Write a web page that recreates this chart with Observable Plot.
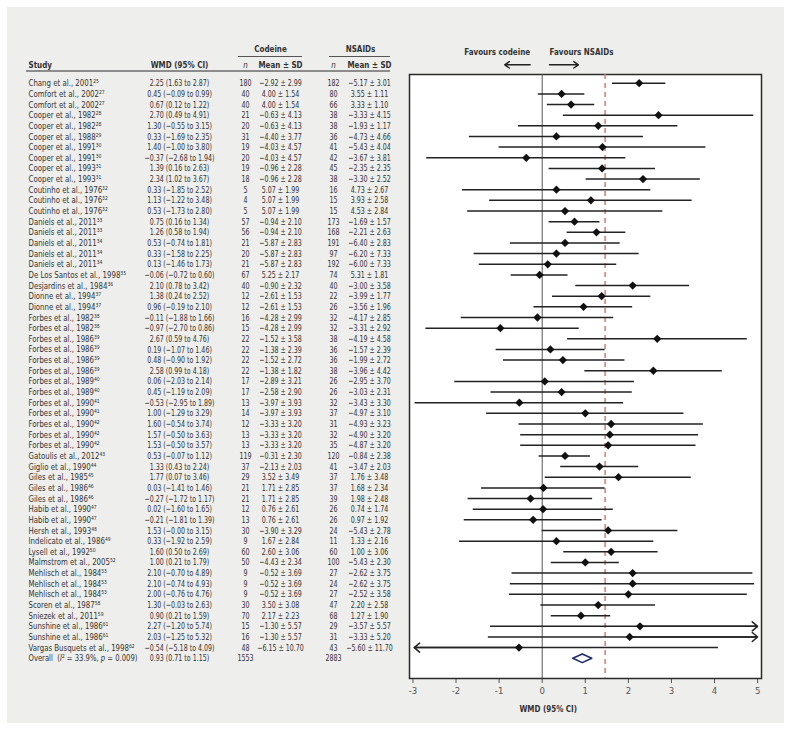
<!DOCTYPE html>
<html><head><meta charset="utf-8">
<script src="https://cdn.jsdelivr.net/npm/d3@7"></script>
<script src="https://cdn.jsdelivr.net/npm/@observablehq/plot@0.6"></script>
<style>
body{margin:0;background:#fff;}
#wrap{position:relative;width:791px;height:730px;}
#panel{position:absolute;left:7px;top:7px;width:777px;height:716px;background:#eeeeec;}
#chart{position:absolute;left:0;top:0;}
</style></head><body>
<div id="wrap"><div id="panel"></div><div id="chart"></div></div>
<script>
// ---------- data ----------
const studies = ["Chang et al., 2001","Comfort et al., 2002","Comfort et al., 2002","Cooper et al., 1982","Cooper et al., 1982","Cooper et al., 1988","Cooper et al., 1991","Cooper et al., 1991","Cooper et al., 1993","Cooper et al., 1993","Coutinho et al., 1976","Coutinho et al., 1976","Coutinho et al., 1976","Daniels et al., 2011","Daniels et al., 2011","Daniels et al., 2011","Daniels et al., 2011","Daniels et al., 2011","De Los Santos et al., 1998","Desjardins et al., 1984","Dionne et al., 1994","Dionne et al., 1994","Forbes et al., 1982","Forbes et al., 1982","Forbes et al., 1986","Forbes et al., 1986","Forbes et al., 1986","Forbes et al., 1986","Forbes et al., 1989","Forbes et al., 1989","Forbes et al., 1990","Forbes et al., 1990","Forbes et al., 1990","Forbes et al., 1990","Forbes et al., 1990","Gatoulis et al., 2012","Giglio et al., 1990","Giles et al., 1985","Giles et al., 1986","Giles et al., 1986","Habib et al., 1990","Habib et al., 1990","Hersh et al., 1993","Indelicato et al., 1986","Lysell et al., 1992","Malmstrom et al., 2005","Mehlisch et al., 1984","Mehlisch et al., 1984","Mehlisch et al., 1984","Scoren et al., 1987","Sniezek et al., 2011","Sunshine et al., 1986","Sunshine et al., 1986","Vargas Busquets et al., 1998"];
const refs = [25,27,27,28,28,29,30,30,31,31,32,32,32,33,33,34,34,34,35,36,37,37,38,38,39,39,39,39,40,40,41,41,42,42,42,43,44,45,46,46,47,47,48,49,50,52,53,53,53,58,59,61,61,62];
const wmd = [2.25,0.45,0.67,2.70,1.30,0.33,1.40,-0.37,1.39,2.34,0.33,1.13,0.53,0.75,1.26,0.53,0.33,0.13,-0.06,2.10,1.38,0.96,-0.11,-0.97,2.67,0.19,0.48,2.58,0.06,0.45,-0.53,1.00,1.60,1.57,1.53,0.53,1.33,1.77,0.03,-0.27,0.02,-0.21,1.53,0.33,1.60,1.00,2.10,2.10,2.00,1.30,0.90,2.27,2.03,-0.54];
const ciLow = [1.63,-0.09,0.12,0.49,-0.55,-1.69,-1.00,-2.68,0.16,1.02,-1.85,-1.22,-1.73,0.16,0.58,-0.74,-1.58,-1.46,-0.72,0.78,0.24,-0.19,-1.88,-2.70,0.59,-1.07,-0.90,0.99,-2.03,-1.19,-2.95,-1.29,-0.54,-0.50,-0.50,-0.07,0.43,0.07,-1.41,-1.72,-1.60,-1.81,-0,-1.92,0.50,0.21,-0.70,-0.74,-0.76,-0.03,0.21,-1.20,-1.25,-5.18];
const ciHigh = [2.87,0.99,1.22,4.91,3.15,2.35,3.80,1.94,2.63,3.67,2.52,3.48,2.80,1.34,1.94,1.81,2.25,1.73,0.60,3.42,2.52,2.10,1.66,0.86,4.76,1.46,1.92,4.18,2.14,2.09,1.89,3.29,3.74,3.63,3.57,1.12,2.24,3.46,1.46,1.17,1.65,1.39,3.15,2.59,2.69,1.79,4.89,4.93,4.76,2.63,1.59,5.74,5.32,4.09];
const nCodeine = [180,40,40,21,20,31,19,20,19,18,5,4,5,57,56,21,20,21,67,40,12,12,16,15,22,22,22,22,17,17,13,14,12,13,13,119,37,29,21,21,12,13,30,9,60,50,9,9,9,30,70,15,16,48];
const meanCodeine = [-2.92,4.00,4.00,-0.63,-0.63,-4.40,-4.03,-4.03,-0.96,-0.96,5.07,5.07,5.07,-0.94,-0.94,-5.87,-5.87,-5.87,5.25,-0.90,-2.61,-2.61,-4.28,-4.28,-1.52,-1.38,-1.52,-1.38,-2.89,-2.58,-3.97,-3.97,-3.33,-3.33,-3.33,-0.31,-2.13,3.52,1.71,1.71,0.76,0.76,-3.90,1.67,2.60,-4.43,-0.52,-0.52,-0.52,3.50,2.17,-1.30,-1.30,-6.15];
const sdCodeine = [2.99,1.54,1.54,4.13,4.13,3.77,4.57,4.57,2.28,2.28,1.99,1.99,1.99,2.10,2.10,2.83,2.83,2.83,2.17,2.32,1.53,1.53,2.99,2.99,3.58,2.39,2.72,1.82,3.21,2.90,3.93,3.93,3.20,3.20,3.20,2.30,2.03,3.49,2.85,2.85,2.61,2.61,3.29,2.84,3.06,2.34,3.69,3.69,3.69,3.08,2.23,5.57,5.57,10.70];
const nNsaid = [182,80,66,38,38,36,41,42,45,38,16,15,15,173,168,191,97,192,74,40,22,26,32,32,38,36,36,38,26,26,32,37,31,32,35,120,41,37,37,39,26,26,24,11,60,100,27,24,27,47,68,29,31,43];
const meanNsaid = [-5.17,3.55,3.33,-3.33,-1.93,-4.73,-5.43,-3.67,-2.35,-3.30,4.73,3.93,4.53,-1.69,-2.21,-6.40,-6.20,-6.00,5.31,-3.00,-3.99,-3.56,-4.17,-3.31,-4.19,-1.57,-1.99,-3.96,-2.95,-3.03,-3.43,-4.97,-4.93,-4.90,-4.87,-0.84,-3.47,1.76,1.68,1.98,0.74,0.97,-5.43,1.33,1.00,-5.43,-2.62,-2.62,-2.52,2.20,1.27,-3.57,-3.33,-5.60];
const sdNsaid = [3.01,1.11,1.10,4.15,1.17,4.66,4.04,3.81,2.35,2.52,2.67,2.58,2.84,1.57,2.63,2.83,7.33,7.33,1.81,3.58,1.77,1.96,2.85,2.92,4.58,2.39,2.72,4.42,3.70,2.31,3.30,3.10,3.23,3.20,3.20,2.38,2.03,3.48,2.34,2.48,1.74,1.92,2.78,2.16,3.06,2.30,3.75,3.75,3.58,2.58,1.90,5.57,5.20,11.70];
const overallLabel = "Overall";
const overallI2 = "33.9";
const overallP = "0.009";
const overallWmd = 0.93, overallLow = 0.71, overallHigh = 1.15;
const overallNCodeine = 1553, overallNNsaid = 2883;
const xTicks = [-3,-2,-1,0,1,2,3,4,5];
const refLineValue = 1.46;
const groupHeaders = ["Codeine", "NSAIDs"];
const columnHeaders = ["Study", "WMD (95% CI)", "n", "Mean ± SD", "n", "Mean ± SD"];
const favourLabels = ["Favours codeine", "Favours NSAIDs"];
const axisTitle = "WMD (95% CI)";

// ---------- layout / style ----------
const FONT = "'Liberation Sans Narrow','Arial Narrow','DejaVu Sans Condensed',Lato,sans-serif";
const W = 791, H = 730;
const M = {left: 409, right: 30, top: 74, bottom: 52};
const xDomain = [-3.08, 5.09];
const clipLo = -2.97, clipHi = 5.0;
const yDomain = [-0.82, 55.9];
const FS = 9.5;
const SQUEEZE = {tbltext: 0.82, tblhead: 0.84, tblnum: 0.74, tbloverall: 0.8};
// column anchors as offsets from the plot frame's left edge (px)
const cols = [
  {key: "label", dx: -381, anchor: "start", kind: "tbltext"},
  {key: "ci", dx: -230, anchor: "middle", kind: "tblnum"},
  {key: "nC", dx: -164, anchor: "middle", kind: "tblnum"},
  {key: "mC", dx: -129, anchor: "middle", kind: "tblnum"},
  {key: "nN", dx: -76, anchor: "middle", kind: "tblnum"},
  {key: "mN", dx: -40, anchor: "middle", kind: "tblnum"}
];
const headerDy = -9.5, groupDy = -26;
const groupDx = [-139, -49];
const headerLines = [
  {x1: 238, x2: 302, dy: -17.5, stroke: "#555", w: 1},
  {x1: 329, x2: 390, dy: -17.5, stroke: "#555", w: 1},
  {x1: 26, x2: 390, dy: -3, stroke: "#8c8c8c", w: 2}
];
const favourTextRow = -2.91, favourArrowRow = -1.73;
const favourArrows = [
  {label: favourLabels[0], near: -0.28, far: -0.87},
  {label: favourLabels[1], near: 0.17, far: 0.84}
];

// ---------- derived table ----------
const fmt = v => ((v < 0 || Object.is(v, -0)) ? "\u2212" : "") + Math.abs(v).toFixed(2);
const supDigits = "⁰¹²³⁴⁵⁶⁷⁸⁹";
const sup = n => String(n).replace(/\d/g, c => supDigits[+c]);
const rows = studies.map((s, k) => ({
  i: k,
  label: s + sup(refs[k]),
  est: wmd[k], lo: ciLow[k], hi: ciHigh[k],
  ci: `${fmt(wmd[k])} (${fmt(ciLow[k])} to ${fmt(ciHigh[k])})`,
  nC: String(nCodeine[k]),
  mC: `${fmt(meanCodeine[k])} ± ${fmt(sdCodeine[k])}`,
  nN: String(nNsaid[k]),
  mN: `${fmt(meanNsaid[k])} ± ${fmt(sdNsaid[k])}`
}));
const oi = rows.length;
const overallRow = {
  i: oi,
  label: `${overallLabel}  (I² = ${overallI2}%, p = ${overallP})`,
  ci: `${fmt(overallWmd)} (${fmt(overallLow)} to ${fmt(overallHigh)})`,
  nC: String(overallNCodeine), mC: "", nN: String(overallNNsaid), mN: ""
};
const diamondHalf = 0.41;
const diamond = [
  {x: overallLow, y: oi}, {x: overallWmd, y: oi - diamondHalf},
  {x: overallHigh, y: oi}, {x: overallWmd, y: oi + diamondHalf}, {x: overallLow, y: oi}
];
const clamp = v => Math.max(clipLo, Math.min(clipHi, v));
const rightClipped = rows.filter(d => d.hi > clipHi);
const leftClipped = rows.filter(d => d.lo < clipLo);

const TXT = "#333";
const textMarks = cols.map(c => Plot.text([...rows, overallRow], {
  y: "i", text: c.key, frameAnchor: "left", dx: c.dx, textAnchor: c.anchor,
  fill: TXT, fontSize: FS, ariaDescription: c.kind,
  filter: c.key === "label" ? (d => d.i !== oi) : undefined
}));
const overallMark = Plot.text([overallRow], {
  y: "i", text: "label", frameAnchor: "left", dx: cols[0].dx, textAnchor: "start",
  fill: TXT, fontSize: FS, ariaDescription: "tbloverall"
});
const headerMarks = columnHeaders.map((h, k) => Plot.text([h], {
  frameAnchor: "top-left", lineAnchor: "middle", dx: cols[k].dx, dy: headerDy, textAnchor: cols[k].anchor,
  fill: TXT, fontSize: FS, fontWeight: h === "n" ? "normal" : "bold",
  fontStyle: h === "n" ? "italic" : "normal", ariaDescription: "tblhead"
}));
const groupMarks = groupHeaders.map((h, k) => Plot.text([h], {
  frameAnchor: "top-left", lineAnchor: "middle", dx: groupDx[k], dy: groupDy, textAnchor: "middle",
  fill: TXT, fontSize: FS, fontWeight: "bold", ariaDescription: "tblhead"
}));
const lineMark = (index, scales, values, dims) => {
  const g = d3.create("svg:g");
  for (const l of headerLines) {
    g.append("line").attr("x1", l.x1).attr("x2", l.x2)
      .attr("y1", dims.marginTop + l.dy).attr("y2", dims.marginTop + l.dy)
      .attr("stroke", l.stroke).attr("stroke-width", l.w);
  }
  return g.node();
};

const chart = Plot.plot({
  width: W, height: H,
  marginLeft: M.left, marginRight: M.right, marginTop: M.top, marginBottom: M.bottom,
  style: {background: "transparent", fontFamily: FONT, fontSize: FS + "px", color: "#555", overflow: "visible"},
  x: {domain: xDomain, ticks: xTicks, tickFormat: d => String(d), tickSize: 5, tickPadding: 4, label: null},
  y: {domain: yDomain, reverse: true, axis: null},
  marks: [
    Plot.frame({fill: "white", stroke: "#2a2a2a", strokeWidth: 1.5}),
    Plot.ruleX([0], {stroke: "#555", strokeWidth: 1}),
    Plot.ruleX([refLineValue], {stroke: "#cf7f72", strokeWidth: 1.5, strokeDasharray: "5,4"}),
    Plot.ruleY(rows, {y: "i", x1: d => clamp(d.lo), x2: d => clamp(d.hi), stroke: "#222", strokeWidth: 1.5}),
    Plot.arrow(rightClipped, {x1: "est", x2: clipHi, y1: "i", y2: "i", stroke: "#222", strokeWidth: 1.5, headLength: 7, headAngle: 80}),
    Plot.arrow(leftClipped, {x1: "est", x2: clipLo, y1: "i", y2: "i", stroke: "#222", strokeWidth: 1.5, headLength: 7, headAngle: 80}),
    Plot.dot(rows, {x: "est", y: "i", symbol: "square", rotate: 45, r: 3.3, fill: "#111"}),
    Plot.line(diamond, {x: "x", y: "y", stroke: "#1f2b6d", strokeWidth: 1.6, fill: "white"}),
    ...textMarks,
    overallMark,
    ...headerMarks,
    ...groupMarks,
    lineMark,
    Plot.text([favourArrows[0]], {x: "near", y: favourTextRow, text: "label", textAnchor: "end", fill: TXT, fontWeight: "bold", fontSize: FS, ariaDescription: "tblhead"}),
    Plot.text([favourArrows[1]], {x: "near", y: favourTextRow, text: "label", textAnchor: "start", fill: TXT, fontWeight: "bold", fontSize: FS, ariaDescription: "tblhead"}),
    Plot.arrow(favourArrows, {x1: "near", x2: "far", y1: favourArrowRow, y2: favourArrowRow, stroke: "#222", strokeWidth: 1.4, headLength: 6, headAngle: 70}),
    Plot.text([axisTitle], {x: 0, frameAnchor: "bottom", dx: 6, dy: 33, fill: TXT, fontWeight: "bold", fontSize: FS, ariaDescription: "tblhead"})
  ]
});
document.getElementById("chart").appendChild(chart);

const pick = kind => {
  const out = [];
  chart.querySelectorAll(`[aria-description="${kind}"]`).forEach(el => {
    if (el.tagName.toLowerCase() === "text") out.push(el);
    else el.querySelectorAll("text").forEach(t => out.push(t));
  });
  return out;
};
// italics for I² and p in the overall row
for (const t of pick("tbloverall")) {
  t.textContent = "";
  t.setAttribute("style", "white-space: pre");
  const parts = [[overallLabel + "  (", false], ["I", true], ["²", false], [` = ${overallI2}%, `, false], ["p", true], [` = ${overallP})`, false]];
  for (const [s, it] of parts) {
    const sp = document.createElementNS("http://www.w3.org/2000/svg", "tspan");
    sp.textContent = s;
    if (it) sp.setAttribute("font-style", "italic");
    t.appendChild(sp);
  }
}
// condense glyphs horizontally (about each text's own anchor) to mimic the narrow typeface
for (const [kind, f] of Object.entries(SQUEEZE)) {
  for (const t of pick(kind)) {
    const tr = t.getAttribute("transform") || "";
    t.setAttribute("transform", `${tr} scale(${f},1)`);
  }
}
</script>
</body></html>
